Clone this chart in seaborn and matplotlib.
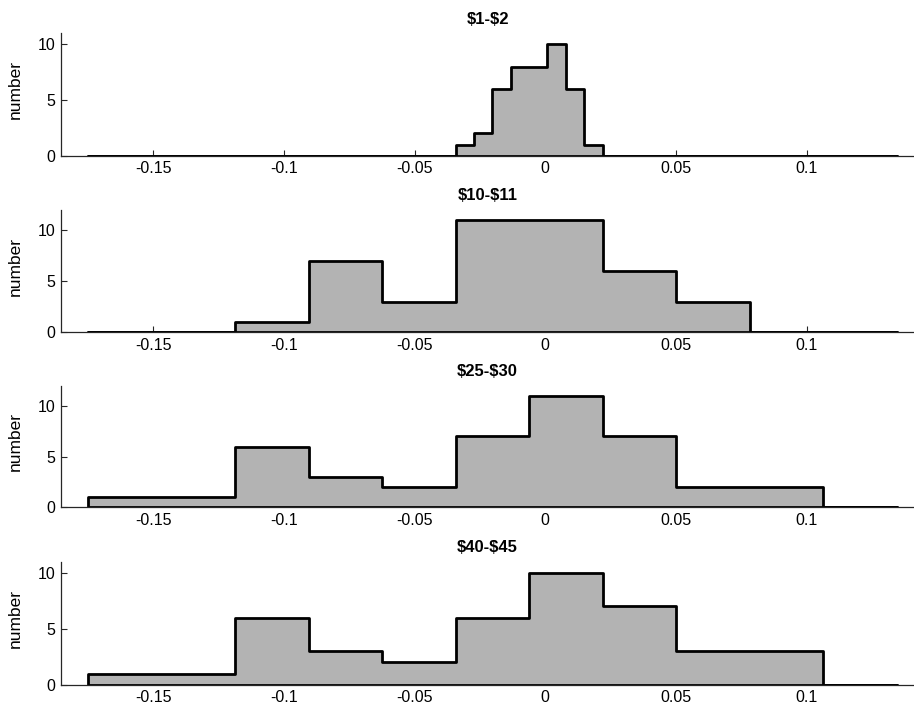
import numpy as np
import pandas as pd
import matplotlib
matplotlib.use("Agg")
import matplotlib.pyplot as plt
import seaborn as sns

# Price-range panels, top to bottom
titles = ["$1-$2", "$10-$11", "$25-$30", "$40-$45"]

# Common data range of the returns
data_range = [-0.175, 0.1345]

# Counts per bin: the $1-$2 panel uses 44 narrow bins, the others 11 wide bins
counts_1_2 = [0, 0, 0, 0, 0, 0, 0, 0, 0, 0,
              0, 0, 0, 0, 0, 0, 0, 0, 0, 0,
              1, 2, 6, 8, 8, 10, 6, 1, 0, 0,
              0, 0, 0, 0, 0, 0, 0, 0, 0, 0,
              0, 0, 0, 0]
counts_10_11 = [0, 0, 1, 7, 3, 11, 11, 6, 3, 0, 0]
counts_25_30 = [1, 1, 6, 3, 2, 7, 11, 7, 2, 2, 0]
counts_40_45 = [1, 1, 6, 3, 2, 6, 10, 7, 3, 3, 0]

all_counts = [counts_1_2, counts_10_11, counts_25_30, counts_40_45]
y_tops = [11, 12, 12, 11]

x_ticks = [-0.15, -0.1, -0.05, 0, 0.05, 0.1]
x_ticklabels = ["-0.15", "-0.1", "-0.05", "0", "0.05", "0.1"]
y_ticks = [0, 5, 10]

sns.set_style("ticks")
plt.rcParams["font.family"] = ["Liberation Sans", "DejaVu Sans"]
plt.rcParams["text.color"] = "black"
plt.rcParams["axes.labelcolor"] = "black"
plt.rcParams["axes.titlecolor"] = "black"

fig = plt.figure(figsize=(9.14, 7.10), dpi=100)

W, H = 914.0, 710.0
# (top, bottom) pixel rows of each panel
rows = [(33.3, 155.7), (210.0, 332.0), (386.0, 507.0), (561.7, 684.7)]
left_px = 61.0

spine_col = "#262626"

for title, counts, ytop, (top, bot) in zip(titles, all_counts, y_tops, rows):
    ax = fig.add_axes([left_px / W, 1 - bot / H, 1 - left_px / W, (bot - top) / H])
    n_bins = len(counts)
    edges = np.linspace(data_range[0], data_range[1], n_bins + 1)
    centers = (edges[:-1] + edges[1:]) / 2
    df = pd.DataFrame({"ret": centers, "n": counts})
    sns.histplot(data=df, x="ret", weights="n", bins=edges.tolist(),
                 element="step", fill=True,
                 facecolor=(0.702, 0.702, 0.702, 1.0),
                 edgecolor="black", linewidth=2.0, alpha=1.0, ax=ax)
    ax.set_xlim(-0.1853, 0.1411)
    ax.set_ylim(0, ytop)
    ax.set_xticks(x_ticks)
    ax.set_xticklabels(x_ticklabels)
    ax.set_yticks(y_ticks)
    ax.set_xlabel("")
    ax.set_ylabel("number", fontsize=12.5, color="black")
    ax.yaxis.set_label_coords(-0.045, 0.54)
    ax.set_title(title, fontsize=12, fontweight="bold", pad=7,
                 parse_math=False, color="black")
    sns.despine(ax=ax)
    for side in ("left", "bottom"):
        ax.spines[side].set_color(spine_col)
        ax.spines[side].set_linewidth(0.9)
    ax.tick_params(direction="in", length=4, width=0.8, color=spine_col,
                   labelsize=11.5, pad=4, labelcolor="black")

fig.savefig("out.png", dpi=100)
